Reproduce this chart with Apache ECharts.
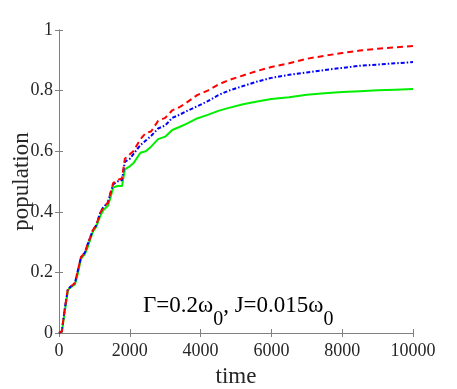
<!DOCTYPE html>
<html>
<head>
<meta charset="utf-8">
<script src="https://cdn.jsdelivr.net/npm/echarts@6/dist/echarts.min.js"></script>
<style>
  html, body { margin: 0; padding: 0; background: #fff; }
  #main { width: 457px; height: 389px; }
</style>
</head>
<body>
<div id="main"></div>
<script>
// time samples shared by the three curves
var times = [0, 80, 150, 250, 300, 450, 520, 620, 730, 800, 960, 1050, 1160, 1250, 1380, 1450, 1530, 1650, 1780,
  1860, 2000, 2100, 2300, 2450, 2600, 2800, 3000, 3200, 3400, 3600, 3900, 4200, 4500, 4800, 5200, 5600, 6000,
  6500, 7000, 7500, 8000, 8500, 9000, 9500, 10000];

var redVals = [0, 0.005, 0.07, 0.145, 0.15, 0.165, 0.2, 0.25, 0.265, 0.29, 0.34, 0.355, 0.395, 0.415, 0.43, 0.46, 0.495, 0.505, 0.51,
  0.575, 0.59, 0.6, 0.64, 0.66, 0.665, 0.7, 0.71, 0.735, 0.745, 0.76, 0.785, 0.8, 0.82, 0.835, 0.85, 0.865, 0.878,
  0.89, 0.905, 0.915, 0.924, 0.932, 0.938, 0.943, 0.947];

var blueVals = [0, 0.005, 0.07, 0.145, 0.15, 0.165, 0.2, 0.25, 0.265, 0.29, 0.34, 0.355, 0.395, 0.415, 0.43, 0.46, 0.49, 0.5, 0.505,
  0.565, 0.575, 0.59, 0.62, 0.635, 0.65, 0.675, 0.685, 0.71, 0.72, 0.732, 0.748, 0.765, 0.785, 0.8, 0.815, 0.83, 0.842,
  0.852, 0.86, 0.868, 0.875, 0.882, 0.886, 0.89, 0.894];

var greenVals = [0, 0.003, 0.06, 0.14, 0.148, 0.16, 0.19, 0.245, 0.26, 0.28, 0.335, 0.35, 0.385, 0.405, 0.42, 0.445, 0.48, 0.485, 0.485,
  0.54, 0.55, 0.56, 0.595, 0.6, 0.615, 0.64, 0.648, 0.67, 0.68, 0.69, 0.708, 0.72, 0.733, 0.743, 0.755, 0.764, 0.772,
  0.778, 0.786, 0.791, 0.795, 0.798, 0.801, 0.803, 0.805];

function pairs(vals) {
  return times.map(function (t, i) { return [t, vals[i]]; });
}

var font = '"Liberation Serif", "DejaVu Serif", serif';
var axisColor = '#808080';
var textColor = '#262626';

var myChart = echarts.init(document.getElementById('main'));
var option = {
  backgroundColor: '#fff',
  animation: false,
  grid: { left: 59, right: 44, top: 30, bottom: 56, outerBoundsMode: 'none', containLabel: false },
  xAxis: [{
    type: 'value', min: 0, max: 10000, interval: 2000,
    name: 'time', nameLocation: 'middle', nameGap: 32, nameMoveOverlap: false,
    nameTextStyle: { fontFamily: font, fontSize: 23, color: textColor },
    axisLine: { lineStyle: { color: axisColor } },
    axisTick: { inside: true, length: 4, lineStyle: { color: axisColor } },
    axisLabel: { fontFamily: font, fontSize: 18, color: textColor, margin: 9, formatter: function (v) { return String(v); } },
    splitLine: { show: false }
  }, {
    type: 'value', position: 'top', min: 0, max: 10000, interval: 2000,
    axisLine: { show: true, lineStyle: { color: axisColor } },
    axisTick: { inside: true, length: 4, lineStyle: { color: axisColor } },
    axisLabel: { show: false },
    splitLine: { show: false }
  }],
  yAxis: [{
    type: 'value', min: 0, max: 1, interval: 0.2,
    name: 'population', nameLocation: 'middle', nameGap: 26, nameMoveOverlap: false,
    nameTextStyle: { fontFamily: font, fontSize: 23, color: textColor },
    axisLine: { show: true, lineStyle: { color: axisColor } },
    axisTick: { show: true, inside: true, length: 4, lineStyle: { color: axisColor } },
    axisLabel: { fontFamily: font, fontSize: 18, color: textColor, margin: 6 },
    splitLine: { show: false }
  }, {
    type: 'value', position: 'right', min: 0, max: 1, interval: 0.2,
    axisLine: { show: true, lineStyle: { color: axisColor } },
    axisTick: { show: true, inside: true, length: 4, lineStyle: { color: axisColor } },
    axisLabel: { show: false },
    splitLine: { show: false }
  }],
  graphic: [{
    type: 'text', left: 143, top: 294,
    style: {
      text: '{a|Γ=0.2ω}{s|0}{a|, J=0.015ω}{s|0}',
      rich: {
        a: { fontFamily: font, fontSize: 23, color: textColor, lineHeight: 24, verticalAlign: 'top' },
        s: { fontFamily: font, fontSize: 20, color: textColor, lineHeight: 36, verticalAlign: 'bottom' }
      }
    }
  }],
  series: [{
    name: 'green', type: 'line', data: pairs(greenVals), showSymbol: false,
    lineStyle: { color: '#00ee00', width: 2, type: 'solid' }
  }, {
    name: 'blue', type: 'line', data: pairs(blueVals), showSymbol: false,
    lineStyle: { color: '#0000ff', width: 2, type: [4, 2, 1.5, 2] }
  }, {
    name: 'red', type: 'line', data: pairs(redVals), showSymbol: false,
    lineStyle: { color: '#ff0000', width: 2, type: [6, 4] }
  }]
};
myChart.setOption(option);
</script>
</body>
</html>
